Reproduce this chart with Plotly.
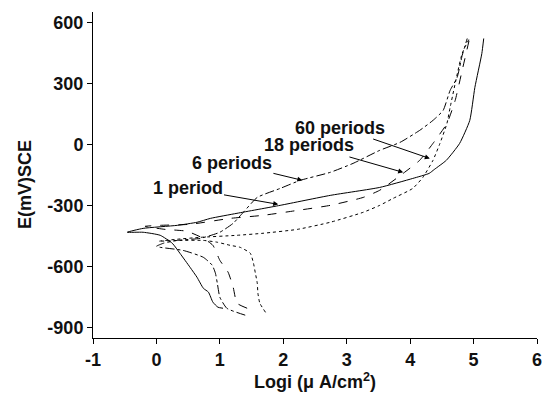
import plotly.graph_objects as go

# 1 period (solid)
p1_logi = [1.05, 0.97, 0.89, 0.82, 0.74, 0.64, 0.53, 0.37, 0.25, 0.06, -0.21, -0.46,
           -0.21, 0.33, 0.64, 0.85, 1.27, 1.95, 2.74, 3.52, 4.04, 4.30, 4.38, 4.57,
           4.78, 4.94, 5.02, 5.13, 5.16]
p1_E = [-804, -799, -774, -725, -706, -652, -603, -534, -485, -446, -431, -431,
        -412, -397, -382, -363, -338, -299, -250, -211, -167, -142, -123, -78,
        5, 118, 279, 446, 520]

# 6 periods (dash-dot)
p6_logi = [1.40, 1.11, 1.00, 0.96, 0.93, 0.88, 0.74, 0.42, 0.06, 0.00,
           0.11, 0.33, 0.69, 1.00, 1.21, 1.37, 1.59, 1.95, 2.27, 2.74, 3.10,
           3.52, 3.84, 4.15, 4.36, 4.52, 4.63, 4.74, 4.82, 4.90]
p6_E = [-838, -804, -750, -681, -632, -593, -554, -520, -505, -500,
        -485, -471, -461, -431, -387, -333, -260, -216, -176, -137, -93,
        -29, 10, 69, 118, 167, 265, 328, 436, 520]

# 18 periods (dashed)
p18_logi = [1.43, 1.27, 1.21, 1.13, 1.00, 0.89, 0.74, 0.48, 0.14, -0.18,
            0.06, 0.53, 1.16, 1.68, 2.22, 2.74, 3.26, 3.52, 3.89, 4.15, 4.36,
            4.58, 4.71, 4.82, 4.94]
p18_E = [-804, -779, -701, -627, -569, -495, -461, -426, -417, -402,
         -397, -392, -363, -348, -324, -299, -260, -225, -142, -78, 5,
         103, 216, 363, 525]

# 60 periods (dotted)
p60_logi = [1.72, 1.63, 1.60, 1.59, 1.56, 1.53, 1.48, 1.32, 1.16, 0.96, 0.74, 0.37, 0.04,
            0.30, 0.69, 1.27, 1.68, 2.22, 2.74, 3.26, 3.52, 3.73, 4.04, 4.20, 4.36,
            4.47, 4.58, 4.63, 4.82, 4.94]
p60_E = [-824, -779, -730, -681, -632, -583, -534, -505, -495, -480, -471, -471, -475,
         -466, -456, -446, -436, -417, -382, -333, -299, -265, -216, -162, -78,
         5, 103, 181, 446, 524]

labels = ["1 period", "6 periods", "18 periods", "60 periods"]
label_x = [0.49, 1.19, 2.41, 2.89]
label_y = [-216, -93, -5, 83]
tip_x = [1.92, 2.30, 3.89, 4.31]
tip_y = [-294, -176, -137, -69]

x_ticks = [-1, 0, 1, 2, 3, 4, 5, 6]
x_ticktext = ["-1", "0", "1", "2", "3", "4", "5", "6"]
y_ticks = [-900, -600, -300, 0, 300, 600]
y_ticktext = ["-900", "-600", "-300", "0", "300", "600"]

FONT = "Liberation Sans, Arial, sans-serif"
TXT = "#111"

fig = go.Figure()
series = [(p1_logi, p1_E, "solid"), (p6_logi, p6_E, "dashdot"),
          (p18_logi, p18_E, "dash"), (p60_logi, p60_E, "dot")]
for xs, ys, dash in series:
    fig.add_trace(go.Scatter(x=xs, y=ys, mode="lines", line_shape="spline",
                             line=dict(color="black", width=1, dash=dash, smoothing=0.5),
                             showlegend=False, hoverinfo="skip"))

for t, lx, ly, tx, ty in zip(labels, label_x, label_y, tip_x, tip_y):
    fig.add_annotation(x=tx, y=ty, ax=lx, ay=ly, xref="x", yref="y", axref="x", ayref="y",
                       text=t, showarrow=True, arrowhead=2, arrowsize=1, arrowwidth=1,
                       arrowcolor="black", standoff=0,
                       font=dict(family=FONT, size=18, color=TXT, weight="bold"))

# y-axis title placed as a rotated annotation
fig.add_annotation(xref="paper", yref="paper",
                   x=(25 - 93) / 444, y=(338 - 185) / 326,
                   xanchor="center", yanchor="middle",
                   text="E(mV)SCE", textangle=-90, showarrow=False,
                   font=dict(family=FONT, size=18, color=TXT, weight="bold"))

axis_common = dict(showline=True, linecolor="black", linewidth=1, ticks="outside",
                   ticklen=5, tickwidth=1, tickcolor="black", showgrid=False,
                   zeroline=False, mirror=False, automargin=False,
                   tickfont=dict(family=FONT, size=18, color=TXT, weight="bold"))

fig.update_layout(
    width=550, height=393,
    margin=dict(l=93, r=13, t=12, b=55),
    paper_bgcolor="white", plot_bgcolor="white",
    xaxis=dict(range=[-1, 6], tickvals=x_ticks, ticktext=x_ticktext, **axis_common,
               title=dict(text="Logi (μ A/cm<sup>2</sup>)", standoff=4,
                          font=dict(family=FONT, size=18, color=TXT, weight="bold"))),
    yaxis=dict(range=[-950, 650], tickvals=y_ticks, ticktext=y_ticktext, **axis_common),
)

fig.write_html("out.html")
